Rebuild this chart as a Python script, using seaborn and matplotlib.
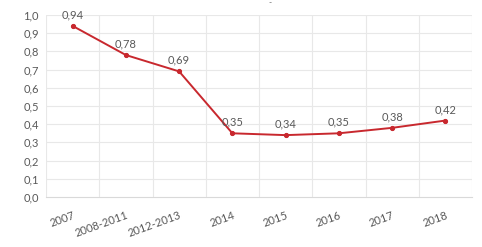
import matplotlib
matplotlib.use("Agg")
import matplotlib.pyplot as plt
import seaborn as sns
import pandas as pd
import numpy as np

categories = ["2007", "2008-2011", "2012-2013", "2014", "2015", "2016", "2017", "2018"]
values = [0.94, 0.78, 0.69, 0.35, 0.34, 0.35, 0.38, 0.42]
yticks = [0.0, 0.1, 0.2, 0.3, 0.4, 0.5, 0.6, 0.7, 0.8, 0.9, 1.0]

sns.set_theme(style="white")
plt.rcParams['font.family'] = ['Lato', 'DejaVu Sans']

df = pd.DataFrame({"pos": np.arange(len(categories)), "val": values})

fig = plt.figure(figsize=(4.82, 2.47), dpi=100)
ax = fig.add_axes([46/482, 1 - 197/247, (472-46)/482, (197-15)/247])

red = "#C8282E"
grid_c = "#E8E8E8"
txt_c = "#595959"

sns.lineplot(data=df, x="pos", y="val", ax=ax, color=red, linewidth=1.4,
             marker="o", markersize=3, markeredgecolor=red, zorder=3)

n = len(categories)
ax.set_xlim(-0.5, n - 0.5)
ax.set_ylim(0, 1.0)
ax.set_yticks(yticks)
ax.set_yticklabels([f"{t:.1f}".replace(".", ",") for t in yticks], color=txt_c, fontsize=8)
ax.set_xticks(np.arange(n))
ax.set_xticklabels(categories, rotation=20, ha="right", rotation_mode="anchor",
                   color=txt_c, fontsize=8)
ax.tick_params(axis="both", length=0, pad=5)
ax.tick_params(axis="x", pad=9)
ax.set_xlabel("")
ax.set_ylabel("")

for b in np.arange(-0.5, n, 1.0):
    ax.axvline(b, color=grid_c, linewidth=0.8, zorder=0)
for t in yticks[1:]:
    ax.axhline(t, color=grid_c, linewidth=0.8, zorder=0)

for s in ["top", "right", "left"]:
    ax.spines[s].set_visible(False)
ax.spines["bottom"].set_color("#D9D9D9")
ax.spines["bottom"].set_linewidth(0.8)

for i, v in enumerate(values):
    ax.annotate(f"{v:.2f}".replace(".", ","), (i, v), xytext=(0, 4),
                textcoords="offset points", ha="center", va="bottom",
                color=txt_c, fontsize=8)

fig.text(270/482, 1 - 3/247, "-", ha="center", va="center", color=txt_c, fontsize=6)

fig.savefig("out.png", dpi=100)
